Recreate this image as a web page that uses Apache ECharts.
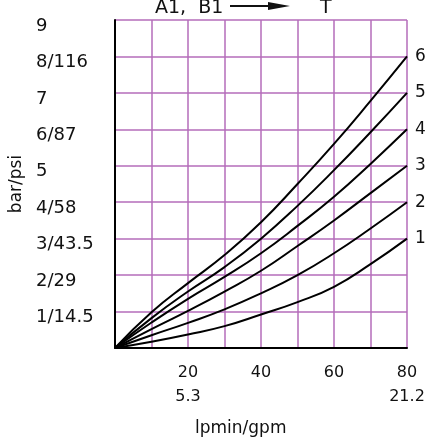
<!DOCTYPE html>
<html>
<head>
<meta charset="utf-8">
<script src="https://cdn.jsdelivr.net/npm/echarts@6/dist/echarts.min.js"></script>
<style>
html,body{margin:0;padding:0;background:#fff;}
#c{width:429px;height:437px;}
</style>
</head>
<body>
<div id="c"></div>
<script>
const flowLpm = [0, 10, 20, 30, 40, 50, 60, 70, 80];
const curve1 = [0, 0.17, 0.37, 0.60, 0.92, 1.26, 1.68, 2.30, 3.0];
const curve2 = [0, 0.35, 0.69, 1.06, 1.50, 2.00, 2.60, 3.28, 4.0];
const curve3 = [0, 0.52, 1.02, 1.55, 2.12, 2.80, 3.50, 4.25, 5.0];
const curve4 = [0, 0.70, 1.35, 1.95, 2.60, 3.35, 4.15, 5.05, 6.0];
const curve5 = [0, 0.82, 1.55, 2.22, 3.00, 3.90, 4.88, 5.92, 7.0];
const curve6 = [0, 0.98, 1.78, 2.55, 3.45, 4.50, 5.60, 6.78, 8.0];
const curveNames = ['1', '2', '3', '4', '5', '6'];
const yTickLabels = {1: '1/14.5', 2: '2/29', 3: '3/43.5', 4: '4/58', 5: '5', 6: '6/87', 7: '7', 8: '8/116', 9: '9'};
const xTickLabels = {20: '20\n5.3', 40: '40', 60: '60', 80: '80\n21.2'};

const FONT = 'DejaVu Sans';
const GRIDC = '#b46cba';
const chart = echarts.init(document.getElementById('c'));
const curves = [curve1, curve2, curve3, curve4, curve5, curve6];

chart.setOption({
  animation: false,
  grid: {left: 115, right: 22, top: 20, bottom: 89, containLabel: false, outerBoundsMode: 'none'},
  xAxis: {
    type: 'value', min: 0, max: 80, interval: 10,
    axisLine: {show: true, lineStyle: {color: '#000', width: 2}},
    axisTick: {show: false},
    splitLine: {show: true, lineStyle: {color: GRIDC, width: 1.5}},
    axisLabel: {
      margin: 13, color: '#111', fontFamily: FONT, fontSize: 16, lineHeight: 24,
      formatter: v => xTickLabels[v] || ''
    }
  },
  yAxis: {
    type: 'value', min: 0, max: 9, interval: 1,
    axisLine: {show: true, lineStyle: {color: '#000', width: 2}},
    axisTick: {show: false},
    splitLine: {show: true, lineStyle: {color: GRIDC, width: 1.5}},
    axisLabel: {
      margin: 79, align: 'left', verticalAlign: 'top', lineHeight: 12,
      color: '#111', fontFamily: FONT, fontSize: 18,
      formatter: v => yTickLabels[v] || ''
    },
    name: 'bar/psi', nameLocation: 'middle', nameGap: 90, nameRotate: 90,
    nameTextStyle: {color: '#111', fontFamily: FONT, fontSize: 17}
  },
  series: curves.map((c, i) => ({
    type: 'line', name: curveNames[i], smooth: true, showSymbol: false, symbol: 'none',
    data: flowLpm.map((x, j) => [x, c[j]]),
    lineStyle: {color: '#000', width: 2},
    endLabel: {show: true, formatter: '{a}', distance: 8, color: '#111', fontFamily: FONT, fontSize: 17}
  })),
  graphic: [
    {type: 'text', left: 155, top: -1, style: {text: 'A1,  B1', fontFamily: FONT, fontSize: 19, fill: '#111'}},
    {type: 'line', shape: {x1: 230, y1: 6, x2: 276, y2: 6}, style: {stroke: '#111', lineWidth: 2}},
    {type: 'polygon', shape: {points: [[268, 2], [290, 6], [268, 10]]}, style: {fill: '#111'}},
    {type: 'text', left: 320, top: -1, style: {text: 'T', fontFamily: FONT, fontSize: 19, fill: '#111'}},
    {type: 'text', left: 195, top: 420, style: {text: 'lpmin/gpm', fontFamily: FONT, fontSize: 17, fill: '#111'}}
  ]
});
</script>
</body>
</html>
